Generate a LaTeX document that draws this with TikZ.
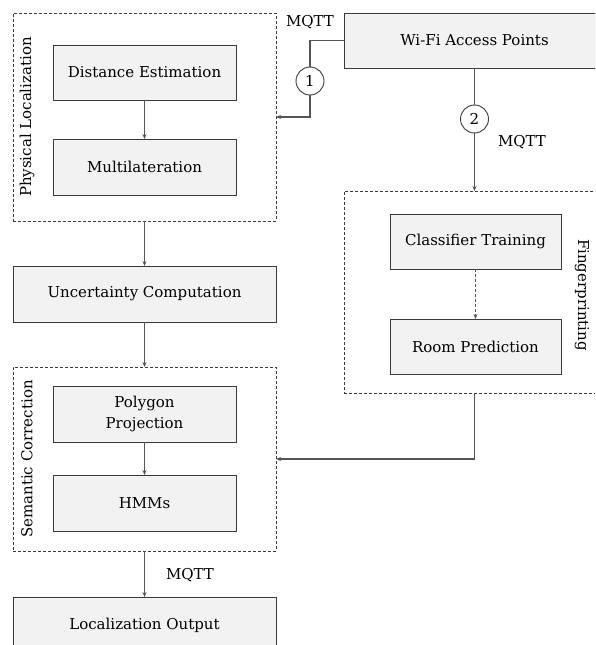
\documentclass[tikz,border=0pt]{standalone}
\usepackage{fontspec}
\setmainfont{DejaVu Serif}
\usetikzlibrary{arrows.meta}
\definecolor{boxfill}{HTML}{F2F2F2}
\definecolor{boxline}{HTML}{3A3A3A}
\definecolor{wire}{HTML}{555555}
\tikzset{
  stage/.style={draw=boxline, fill=boxfill, line width=1pt, inner sep=0pt, outer sep=0pt,
    align=center, font=\fontsize{15}{20.5}\selectfont},
  group/.style={draw=boxline, line width=0.8pt, dash pattern=on 3pt off 2pt, inner sep=0pt, outer sep=0pt},
  tag/.style={circle, draw=boxline, fill=white, line width=0.9pt, minimum size=28pt, inner sep=0pt,
    font=\fontsize{15}{18}\selectfont},
  lbl/.style={font=\fontsize{15}{18}\selectfont, inner sep=0pt},
  wirearrow/.style={draw=wire, line width=1.1pt, -{Stealth[length=5pt,width=4pt]}},
  wireplain/.style={draw=wire, line width=1.1pt}
}
\begin{document}
\begin{tikzpicture}[x=1pt, y=-1pt]
\useasboundingbox (0,0) rectangle (595,645);
\clip (0,0) rectangle (595,645);

% left column: physical localization group
\node[group, minimum width=263pt, minimum height=208pt] (pl) at (144.5,117) {};
\node[lbl, rotate=90] (pllbl) at (27,117) {Physical Localization};
\node[stage, minimum width=183pt, minimum height=55pt] (de) at (144.5,72.5) {Distance Estimation};
\node[stage, minimum width=183pt, minimum height=56pt] (ml) at (144.5,167) {Multilateration};

\node[stage, minimum width=263pt, minimum height=56pt] (uc) at (144.5,294) {Uncertainty Computation};

% semantic correction group
\node[group, minimum width=263pt, minimum height=184pt] (sc) at (144.5,459) {};
\node[lbl, rotate=90] (sclbl) at (27,459) {Semantic Correction};
\node[stage, minimum width=183pt, minimum height=56pt] (pp) at (144.5,414) {Polygon\\Projection};
\node[stage, minimum width=183pt, minimum height=56pt] (hmm) at (144.5,503) {HMMs};

\node[stage, minimum width=263pt, minimum height=56pt] (lo) at (144.5,625) {Localization Output};

% right column: access points and fingerprinting
\node[stage, minimum width=261pt, minimum height=55pt] (wifi) at (474.5,40.5) {Wi-Fi Access Points};
\node[group, minimum width=261pt, minimum height=202pt] (fp) at (474.5,292) {};
\node[lbl, rotate=-90] (fplbl) at (582,295) {Fingerprinting};
\node[stage, minimum width=171pt, minimum height=55pt] (ct) at (475.5,241.5) {Classifier Training};
\node[stage, minimum width=171pt, minimum height=55pt] (rp) at (475.5,346.5) {Room Prediction};

% numbered channel tags
\node[tag] (c1) at (310,81) {1};
\node[tag] (c2) at (474.5,119) {2};

% MQTT labels
\node[lbl] (m1) at (310,22) {MQTT};
\node[lbl] (m2) at (522,142) {MQTT};
\node[lbl] (m3) at (190,575) {MQTT};

% connectors
\draw[wirearrow] (de) -- (ml);
\draw[wirearrow] (pl) -- (uc);
\draw[wirearrow] (uc) -- (sc);
\draw[wirearrow] (pp) -- (hmm);
\draw[wirearrow] (sc) -- (lo);
\draw[wirearrow, dash pattern=on 3pt off 2pt] (ct) -- (rp);

\draw[wireplain] (wifi.west) -| (c1.north);
\draw[wirearrow] (c1.south) |- (pl.east);
\draw[wireplain] (wifi.south) -- (c2.north);
\draw[wirearrow] (c2.south) -- (fp.north);
\draw[wirearrow] (fp.south) |- (sc.east);
\end{tikzpicture}
\end{document}
